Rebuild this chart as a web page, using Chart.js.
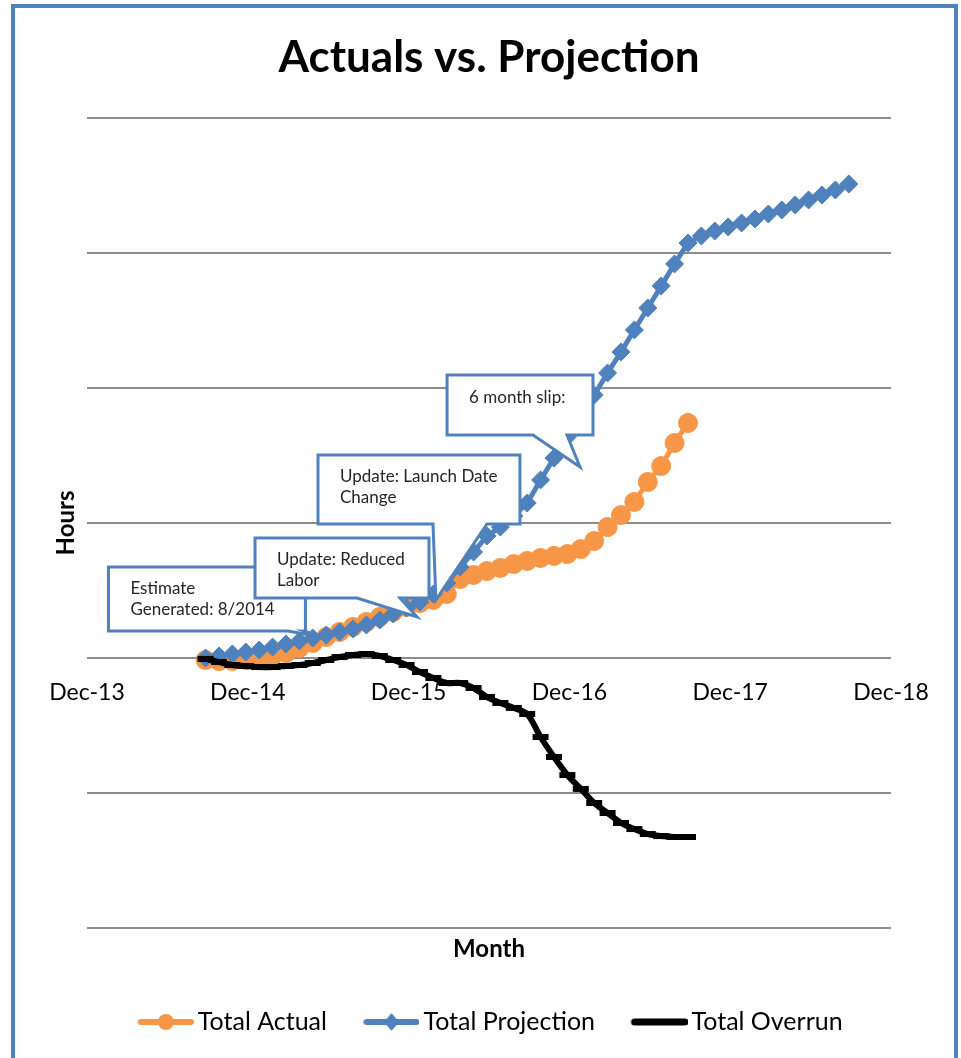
<!DOCTYPE html>
<html>
<head>
<meta charset="utf-8">
<title>Actuals vs. Projection</title>
<script src="https://cdn.jsdelivr.net/npm/chart.js@4.4.0/dist/chart.umd.min.js"></script>
<style>
  html, body { margin: 0; padding: 0; background: #ffffff; overflow: hidden; }
  #wrap { position: relative; width: 961px; height: 1058px; overflow: hidden; background: #ffffff; }
  #c { position: absolute; left: 0; top: 0; }
  #frame { position: absolute; left: 11px; top: 4px; width: 939px; height: 1100px;
           border: 4px solid #4F81BD; pointer-events: none; }
</style>
</head>
<body>
<div id="wrap">
  <canvas id="c" width="961" height="1058"></canvas>
  <div id="frame"></div>
</div>
<script>
// ---- data -------------------------------------------------------------
const months = [
  'Aug-14','Sep-14','Oct-14','Nov-14','Dec-14',
  'Jan-15','Feb-15','Mar-15','Apr-15','May-15','Jun-15','Jul-15','Aug-15','Sep-15','Oct-15','Nov-15','Dec-15',
  'Jan-16','Feb-16','Mar-16','Apr-16','May-16','Jun-16','Jul-16','Aug-16','Sep-16','Oct-16','Nov-16','Dec-16',
  'Jan-17','Feb-17','Mar-17','Apr-17','May-17','Jun-17','Jul-17','Aug-17','Sep-17','Oct-17','Nov-17','Dec-17',
  'Jan-18','Feb-18','Mar-18','Apr-18','May-18','Jun-18','Jul-18','Aug-18'
];

// cumulative hours
const totalActual = [
  -150, -220, -220, -150, 0,
  150, 370, 740, 1110, 1560, 1930, 2300, 2670, 3040, 3410, 3780, 4070,
  4300, 4740, 5850, 6150, 6440, 6670, 6960, 7190, 7410, 7560, 7700, 8070,
  8670, 9700, 10590, 11560, 13040, 14220, 15930, 17410
];

const totalProjection = [
  0, 150, 300, 440, 590,
  810, 1040, 1260, 1480, 1700, 1930, 2150, 2440, 2810, 3260, 3700, 4150,
  4740, 5560, 6740, 7850, 9040, 9700, 10520, 11480, 13190, 14810, 16370, 17850,
  19480, 21110, 22670, 24300, 25930, 27560, 29190, 30740, 31260, 31630, 31930, 32220,
  32520, 32890, 33190, 33560, 33930, 34300, 34670, 35110
];

const totalOverrun = [
  -70, -300, -520, -590, -670,
  -670, -590, -520, -370, -150, 70, 220, 300, 150, -150, -520, -1040,
  -1480, -1850, -1850, -2220, -2890, -3330, -3700, -4150, -5850, -7330, -8670, -9700,
  -10740, -11480, -12220, -12670, -13040, -13190, -13260, -13260
];

const axisTickLabels = ['Dec-13', 'Dec-14', 'Dec-15', 'Dec-16', 'Dec-17', 'Dec-18'];

// ---- helpers ----------------------------------------------------------
const FONT = 'Lato, "Open Sans", "DejaVu Sans", sans-serif';
const MON = {Jan:0, Feb:1, Mar:2, Apr:3, May:4, Jun:5, Jul:6, Aug:7, Sep:8, Oct:9, Nov:10, Dec:11};
// months elapsed since 1 Dec 2013; monthly totals are posted late in the month
const POSTING_DAY = 0.85;
function monthPos(label) {
  const [m, y] = label.split('-');
  return (2000 + Number(y) - 2013) * 12 + MON[m] - 11 + POSTING_DAY;
}
const toPoints = vals => vals.map((v, i) => ({x: monthPos(months[i]), y: v}));

const ORANGE = '#F79646';
const BLUE = '#4F81BD';
const BLACK = '#000000';

// legend swatches: a short line with the series marker on it,
// drawn at the right end of a wider transparent image
function swatch(kind) {
  const W = 91, H = 26, L = 56;
  const c = document.createElement('canvas');
  c.width = W; c.height = H;
  const g = c.getContext('2d');
  const x0 = W - L, cx = W - L / 2, cy = H / 2;
  g.lineCap = 'round';
  g.beginPath();
  g.moveTo(x0 + 3, cy); g.lineTo(W - 3, cy);
  if (kind === 'actual') { g.strokeStyle = ORANGE; g.lineWidth = 6; }
  else if (kind === 'projection') { g.strokeStyle = BLUE; g.lineWidth = 6; }
  else { g.strokeStyle = BLACK; g.lineWidth = 7; }
  g.stroke();
  if (kind === 'actual') {
    g.fillStyle = ORANGE;
    g.beginPath(); g.arc(cx, cy, 8, 0, Math.PI * 2); g.fill();
  } else if (kind === 'projection') {
    g.fillStyle = BLUE;
    g.beginPath();
    g.moveTo(cx, cy - 9); g.lineTo(cx + 7.5, cy); g.lineTo(cx, cy + 9); g.lineTo(cx - 7.5, cy);
    g.closePath(); g.fill();
  }
  return c;
}
const swatches = [swatch('actual'), swatch('projection'), swatch('overrun')];

// speech-bubble notes, placed in axis units (months since Dec-13, hours)
const callouts = [
  {text: ['Estimate', 'Generated: 8/2014'],
   x0: 1.6, x1: 16.3, yTop: 6740, yBot: 2000, baseL: 15.0, baseR: 16.2, tipX: 17.5, tipY: 1560},
  {text: ['Update: Reduced', 'Labor'],
   x0: 12.54, x1: 25.52, yTop: 8890, yBot: 4440, baseL: 20.15, baseR: 23.36, tipX: 24.63, tipY: 3040},
  {text: ['Update: Launch Date', 'Change'],
   x0: 17.24, x1: 32.31, yTop: 15040, yBot: 9930, baseL: 25.82, baseR: 29.85, tipX: 26.04, tipY: 4300},
  {text: ['6 month slip:'],
   x0: 26.87, x1: 37.76, yTop: 20960, yBot: 16520, baseL: 33.28, baseR: 35.82, tipX: 36.79, tipY: 14150}
];

const calloutPlugin = {
  id: 'callouts',
  afterDatasetsDraw(chart) {
    const {ctx} = chart;
    const sx = chart.scales.x, sy = chart.scales.y;
    ctx.save();
    for (const c of callouts) {
      const l = sx.getPixelForValue(c.x0), r = sx.getPixelForValue(c.x1);
      const t = sy.getPixelForValue(c.yTop), b = sy.getPixelForValue(c.yBot);
      const bl = sx.getPixelForValue(c.baseL), br = sx.getPixelForValue(c.baseR);
      const tx = sx.getPixelForValue(c.tipX), ty = sy.getPixelForValue(c.tipY);
      ctx.beginPath();
      ctx.moveTo(l, t); ctx.lineTo(r, t); ctx.lineTo(r, b);
      ctx.lineTo(br, b); ctx.lineTo(tx, ty); ctx.lineTo(bl, b);
      ctx.lineTo(l, b); ctx.closePath();
      ctx.fillStyle = '#ffffff';
      ctx.fill();
      ctx.lineWidth = 3;
      ctx.lineJoin = 'miter';
      ctx.strokeStyle = BLUE;
      ctx.stroke();
      ctx.fillStyle = '#262626';
      ctx.font = '17px ' + FONT;
      ctx.textAlign = 'left';
      ctx.textBaseline = 'middle';
      c.text.forEach((line, i) => ctx.fillText(line, l + 22, t + 22 + i * 21));
    }
    ctx.restore();
  }
};

// ---- chart ------------------------------------------------------------
new Chart(document.getElementById('c'), {
  type: 'line',
  data: {
    datasets: [
      {
        label: 'Total Actual',
        data: toPoints(totalActual),
        borderColor: ORANGE, backgroundColor: ORANGE,
        borderWidth: 5,
        pointStyle: 'circle', pointRadius: 9.5,
        pointBackgroundColor: ORANGE, pointBorderColor: ORANGE, pointBorderWidth: 1,
        tension: 0, order: 2
      },
      {
        label: 'Total Projection',
        data: toPoints(totalProjection),
        borderColor: BLUE, backgroundColor: BLUE,
        borderWidth: 5,
        pointStyle: 'rectRot', pointRadius: 9,
        pointBackgroundColor: BLUE, pointBorderColor: BLUE, pointBorderWidth: 1,
        tension: 0, order: 1
      },
      {
        label: 'Total Overrun',
        data: toPoints(totalOverrun),
        borderColor: BLACK, backgroundColor: BLACK,
        borderWidth: 6,
        pointStyle: 'line', pointRadius: 8,
        pointBorderColor: BLACK, pointBorderWidth: 6,
        tension: 0.3, order: 0
      }
    ]
  },
  options: {
    responsive: false,
    animation: false,
    devicePixelRatio: 1,
    layout: {padding: {top: 0, left: 40, right: 47, bottom: 13.5}},
    interaction: {mode: 'nearest', intersect: true},
    scales: {
      x: {
        type: 'linear',
        position: {y: 0},
        min: 0, max: 60,
        grid: {display: false, drawTicks: false},
        border: {display: false},
        ticks: {
          stepSize: 12, autoSkip: false, maxRotation: 0, padding: 21,
          color: '#000000', font: {family: FONT, size: 23},
          callback: v => axisTickLabels[Math.round(v / 12)]
        }
      },
      x2: {
        type: 'linear',
        position: 'bottom',
        min: 0, max: 60,
        grid: {display: false, drawTicks: false},
        border: {display: false},
        ticks: {display: false},
        title: {display: true, text: 'Month', color: '#000000',
                font: {family: FONT, size: 24, weight: 'bold'}, padding: {top: 0, bottom: 36}},
        afterFit: s => { s.height = 71.5; }
      },
      y: {
        type: 'linear',
        position: 'left',
        min: -20000, max: 40000,
        grid: {color: '#8c8c8c', lineWidth: 2, drawTicks: false},
        border: {display: false},
        ticks: {display: false, stepSize: 10000},
        title: {display: true, text: 'Hours', color: '#000000',
                font: {family: FONT, size: 24, weight: 'bold'}, padding: {top: 12, bottom: 0}},
        afterFit: s => { s.width = 47; }
      },
      y2: {
        type: 'linear',
        position: 'right',
        grid: {display: false, drawTicks: false},
        border: {display: false},
        ticks: {display: false},
        afterFit: s => { s.width = 23; }
      }
    },
    plugins: {
      title: {
        display: true,
        text: 'Actuals vs. Projection',
        color: '#000000',
        fullSize: false,
        font: {family: FONT, size: 44, weight: 'bold'},
        padding: {top: 31.6, bottom: 33.6}
      },
      legend: {
        display: true,
        position: 'bottom',
        labels: {
          usePointStyle: true,
          pointStyleWidth: 74,
          padding: 10,
          color: '#000000',
          font: {family: FONT, size: 25},
          generateLabels: chart => chart.data.datasets.map((ds, i) => ({
            text: ds.label,
            pointStyle: swatches[i],
            fillStyle: 'rgba(0,0,0,0)',
            strokeStyle: 'rgba(0,0,0,0)',
            lineWidth: 0,
            hidden: false,
            datasetIndex: i,
            fontColor: '#000000'
          }))
        }
      },
      tooltip: {enabled: false}
    }
  },
  plugins: [calloutPlugin]
});
</script>
</body>
</html>
